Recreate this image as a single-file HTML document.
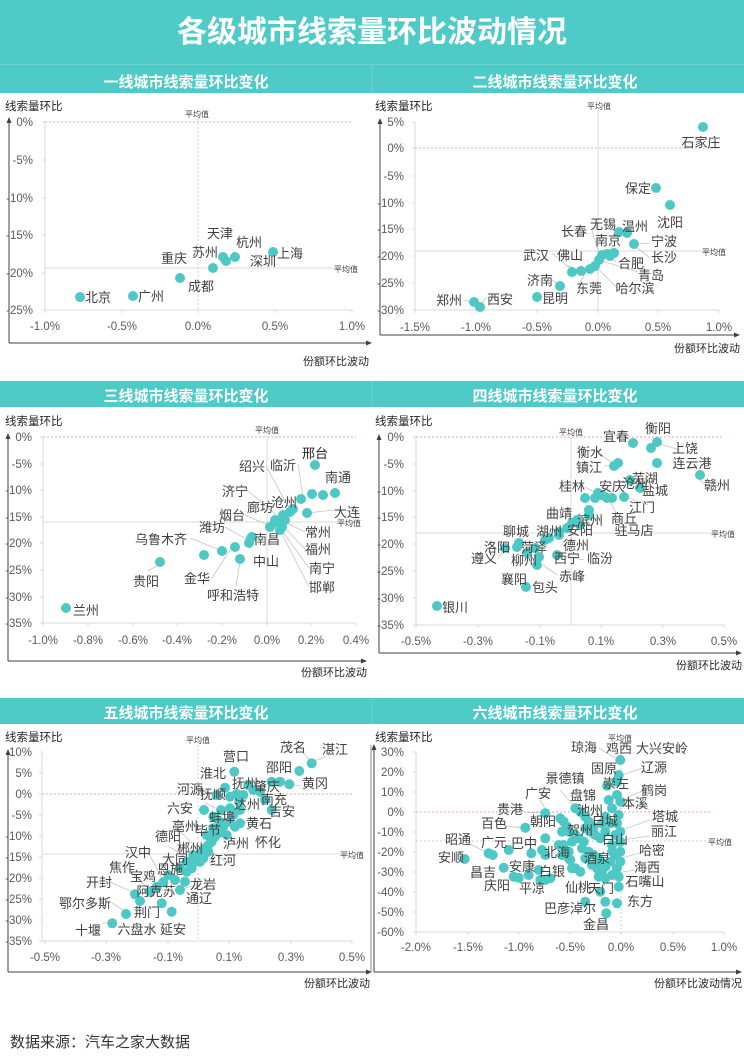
<!DOCTYPE html>
<html><head><meta charset="utf-8"><style>
html,body{margin:0;padding:0;background:#fff}
svg{display:block}
text{font-family:"Liberation Sans","Noto Sans CJK SC",sans-serif}
.ty{font-size:11.5px;fill:#595959;text-anchor:end}
.tx{font-size:11.5px;fill:#595959;text-anchor:middle}
.c{font-size:13px;fill:#404040;text-anchor:middle;font-family:"Liberation Sans","Noto Sans CJK SC",sans-serif}
.av{font-size:8px;fill:#404040;text-anchor:middle}
.at{font-size:11px;fill:#262626}
.h{font-size:15px;font-weight:bold;fill:#fff;text-anchor:middle}
.g{stroke:#d9d9d9;stroke-width:1;fill:none}
.rd{stroke:#f2a0a0;stroke-width:1;stroke-dasharray:2 2}
.gd{stroke:#cfcfcf;stroke-width:1;stroke-dasharray:2 2}
.ll{stroke:#c4c4c4;stroke-width:0.8;fill:none}
.ax{stroke:#404040;stroke-width:1}
circle{fill:#4DC8C5}
</style></head><body>
<svg width="744" height="1060" viewBox="0 0 744 1060" xmlns="http://www.w3.org/2000/svg">
<rect width="744" height="1060" fill="#fff"/>
<!-- headers -->
<rect x="0" y="0" width="744" height="93" fill="#4ECAC7"/>
<line x1="0" y1="64.5" x2="744" y2="64.5" stroke="#6ed3d0"/>
<line x1="372" y1="65" x2="372" y2="93" stroke="#6ed3d0"/>
<text x="372" y="42" style="font-size:30px;font-weight:bold;fill:#fff;text-anchor:middle">各级城市线索量环比波动情况</text>
<text class="h" x="186" y="87">一线城市线索量环比变化</text>
<text class="h" x="555" y="87">二线城市线索量环比变化</text>
<rect x="0" y="381" width="744" height="26" fill="#4ECAC7"/>
<line x1="372" y1="381" x2="372" y2="407" stroke="#6ed3d0"/>
<text class="h" x="186" y="401">三线城市线索量环比变化</text>
<text class="h" x="555" y="401">四线城市线索量环比变化</text>
<rect x="0" y="698" width="744" height="26" fill="#4ECAC7"/>
<line x1="372" y1="698" x2="372" y2="724" stroke="#6ed3d0"/>
<text class="h" x="186" y="718">五线城市线索量环比变化</text>
<text class="h" x="555" y="718">六线城市线索量环比变化</text>

<!-- ===== Panel 1 ===== -->
<g>
<text class="at" x="5" y="110" style="font-size:11.5px">线索量环比</text>
<line class="rd" x1="45" y1="122" x2="352" y2="122"/>
<line class="gd" x1="198" y1="119" x2="198" y2="310"/>
<line class="g" x1="45" y1="268" x2="352" y2="268"/>
<path class="g" d="M45 122V310H352M42 122H45M42 160H45M42 198H45M42 235H45M42 273H45M42 310H45M45 310V313M122 310V313M198 310V313M275 310V313M352 310V313"/>
<text class="av" x="197" y="117">平均值</text>
<text class="av" x="346" y="272">平均值</text>
<text class="ty" x="33" y="126">0%</text><text class="ty" x="33" y="164">-5%</text><text class="ty" x="33" y="202">-10%</text><text class="ty" x="33" y="239">-15%</text><text class="ty" x="33" y="277">-20%</text><text class="ty" x="33" y="314">-25%</text>
<text class="tx" x="45" y="330">-1.0%</text><text class="tx" x="122" y="330">-0.5%</text><text class="tx" x="198" y="330">0.0%</text><text class="tx" x="275" y="330">0.5%</text><text class="tx" x="352" y="330">1.0%</text>
<line class="ax" x1="9" y1="343" x2="9" y2="121"/><polygon points="6.5,123 9,117 11.5,123" fill="#404040"/>
<line class="ax" x1="9" y1="343" x2="369" y2="343"/><polygon points="366,340.5 372,343 366,345.5" fill="#404040"/>
<text class="at" x="369" y="365" style="text-anchor:end">份额环比波动</text>
<circle cx="80" cy="297" r="5"/><circle cx="133" cy="296" r="5"/><circle cx="180" cy="278" r="5"/><circle cx="213" cy="268" r="5"/><circle cx="223" cy="257" r="5"/><circle cx="226" cy="261" r="5"/><circle cx="235" cy="257" r="5"/><circle cx="273" cy="252" r="5"/>
<text class="c" x="220" y="238">天津</text><text class="c" x="249" y="247">杭州</text><text class="c" x="205" y="257">苏州</text><text class="c" x="174" y="263">重庆</text><text class="c" x="263" y="266">深圳</text><text class="c" x="290" y="258">上海</text><text class="c" x="201" y="291">成都</text><text class="c" x="98" y="302">北京</text><text class="c" x="151" y="301">广州</text>
</g>

<!-- ===== Panel 2 ===== -->
<g>
<text class="at" x="375" y="110" style="font-size:11.5px">线索量环比</text>
<line class="rd" x1="415" y1="148" x2="719" y2="148"/>
<line class="g" x1="598" y1="112" x2="598" y2="310"/>
<line class="g" x1="415" y1="251" x2="719" y2="251"/>
<path class="g" d="M415 122V310H719M412 122H415M412 148H415M412 176H415M412 203H415M412 229H415M412 256H415M412 283H415M412 310H415M415 310V313M476 310V313M537 310V313M598 310V313M658 310V313M719 310V313"/>
<text class="av" x="599" y="109">平均值</text>
<text class="av" x="714" y="255">平均值</text>
<text class="ty" x="404" y="126">5%</text><text class="ty" x="404" y="152">0%</text><text class="ty" x="404" y="180">-5%</text><text class="ty" x="404" y="207">-10%</text><text class="ty" x="404" y="233">-15%</text><text class="ty" x="404" y="260">-20%</text><text class="ty" x="404" y="287">-25%</text><text class="ty" x="404" y="314">-30%</text>
<text class="tx" x="415" y="331">-1.5%</text><text class="tx" x="476" y="331">-1.0%</text><text class="tx" x="537" y="331">-0.5%</text><text class="tx" x="598" y="331">0.0%</text><text class="tx" x="658" y="331">0.5%</text><text class="tx" x="719" y="331">1.0%</text>
<line class="ax" x1="380" y1="335" x2="380" y2="122"/><polygon points="377.5,124 380,118 382.5,124" fill="#404040"/>
<line class="ax" x1="380" y1="335" x2="737" y2="335"/><polygon points="734,332.5 740,335 734,337.5" fill="#404040"/>
<text class="at" x="740" y="352" style="text-anchor:end">份额环比波动</text>
<path class="ll" d="M592 230L600 257M612 247L605 254M650 243L636 244M650 258L636 247M616 262L606 256M638 272L602 261M617 288L596 267M579 284L586 272M552 253L572 270M566 265L578 270M552 280L558 284M464 300L472 302M487 297L480 305"/>
<circle cx="703" cy="127" r="5"/><circle cx="656" cy="188" r="5"/><circle cx="670" cy="205" r="5"/><circle cx="627" cy="233" r="5"/><circle cx="619" cy="232" r="5"/><circle cx="634" cy="244" r="5"/><circle cx="560" cy="286" r="5"/><circle cx="537" cy="297" r="5"/><circle cx="474" cy="302" r="5"/><circle cx="480" cy="307" r="5"/><circle cx="572" cy="272" r="5"/><circle cx="581" cy="271" r="5"/><circle cx="590" cy="269" r="5"/><circle cx="599" cy="260" r="5"/><circle cx="602" cy="255" r="5"/><circle cx="607" cy="254" r="5"/><circle cx="614" cy="253" r="5"/><circle cx="610" cy="256" r="5"/><circle cx="595" cy="266" r="5"/>
<text class="c" x="701" y="147">石家庄</text><text class="c" x="638" y="193">保定</text><text class="c" x="670" y="227">沈阳</text><text class="c" x="635" y="231">温州</text><text class="c" x="603" y="229">无锡</text><text class="c" x="574" y="236">长春</text><text class="c" x="608" y="245">南京</text><text class="c" x="664" y="246">宁波</text><text class="c" x="664" y="262">长沙</text><text class="c" x="631" y="268">合肥</text><text class="c" x="651" y="280">青岛</text><text class="c" x="635" y="293">哈尔滨</text><text class="c" x="589" y="293">东莞</text><text class="c" x="536" y="260">武汉</text><text class="c" x="570" y="260">佛山</text><text class="c" x="540" y="285">济南</text><text class="c" x="555" y="303">昆明</text><text class="c" x="449" y="305">郑州</text><text class="c" x="500" y="304">西安</text>
</g>

<!-- ===== Panel 3 ===== -->
<g>
<text class="at" x="5" y="425" style="font-size:11.5px">线索量环比</text>
<line class="rd" x1="43" y1="437" x2="356" y2="437"/>
<line class="g" x1="267" y1="436" x2="267" y2="623"/>
<line class="g" x1="43" y1="522" x2="356" y2="522"/>
<path class="g" d="M43 437V623H356M40 437H43M40 464H43M40 490H43M40 517H43M40 543H43M40 570H43M40 597H43M40 623H43M43 623V626M88 623V626M133 623V626M177 623V626M222 623V626M267 623V626M311 623V626M356 623V626"/>
<text class="av" x="267" y="433">平均值</text>
<text class="av" x="349" y="526">平均值</text>
<text class="ty" x="32" y="441">0%</text><text class="ty" x="32" y="468">-5%</text><text class="ty" x="32" y="494">-10%</text><text class="ty" x="32" y="521">-15%</text><text class="ty" x="32" y="547">-20%</text><text class="ty" x="32" y="574">-25%</text><text class="ty" x="32" y="601">-30%</text><text class="ty" x="32" y="627">-35%</text>
<text class="tx" x="43" y="644">-1.0%</text><text class="tx" x="88" y="644">-0.8%</text><text class="tx" x="133" y="644">-0.6%</text><text class="tx" x="177" y="644">-0.4%</text><text class="tx" x="222" y="644">-0.2%</text><text class="tx" x="267" y="644">0.0%</text><text class="tx" x="311" y="644">0.2%</text><text class="tx" x="356" y="644">0.4%</text>
<line class="ax" x1="8" y1="661" x2="8" y2="437"/><polygon points="5.5,439 8,433 10.5,439" fill="#404040"/>
<line class="ax" x1="8" y1="661" x2="364" y2="661"/><polygon points="361,658.5 367,661 361,663.5" fill="#404040"/>
<text class="at" x="367" y="676" style="text-anchor:end">份额环比波动</text>
<path class="ll" d="M190 538L220 550M225 527L248 540M245 515L268 525M247 490L280 518M266 466L290 510M298 464L303 498M334 510L307 513M305 532L285 522M305 549L283 526M309 568L280 528M309 587L278 526M212 578L230 550M236 586L240 562M148 571L158 565"/>
<circle cx="66" cy="608" r="5"/><circle cx="160" cy="562" r="5"/><circle cx="204" cy="555" r="5"/><circle cx="222" cy="551" r="5"/><circle cx="235" cy="547" r="5"/><circle cx="240" cy="559" r="5"/><circle cx="249" cy="543" r="5"/><circle cx="251" cy="538" r="5"/><circle cx="252" cy="537" r="5"/><circle cx="270" cy="527" r="5"/><circle cx="278" cy="523" r="5"/><circle cx="282" cy="527" r="5"/><circle cx="283" cy="515" r="5"/><circle cx="290" cy="512" r="5"/><circle cx="293" cy="509" r="5"/><circle cx="301" cy="499" r="5"/><circle cx="307" cy="513" r="5"/><circle cx="312" cy="494" r="5"/><circle cx="323" cy="495" r="5"/><circle cx="335" cy="493" r="5"/><circle cx="315" cy="465" r="5"/><circle cx="275" cy="520" r="5"/><circle cx="285" cy="520" r="5"/><circle cx="280" cy="530" r="5"/>
<text class="c" x="315" y="458" style="fill:#222">邢台</text><text class="c" x="338" y="482">南通</text><text class="c" x="283" y="470">临沂</text><text class="c" x="252" y="471">绍兴</text><text class="c" x="235" y="496">济宁</text><text class="c" x="284" y="507">沧州</text><text class="c" x="260" y="512">廊坊</text><text class="c" x="347" y="517">大连</text><text class="c" x="232" y="520">烟台</text><text class="c" x="212" y="532">潍坊</text><text class="c" x="318" y="537">常州</text><text class="c" x="267" y="544">南昌</text><text class="c" x="318" y="554">福州</text><text class="c" x="266" y="566">中山</text><text class="c" x="322" y="573">南宁</text><text class="c" x="197" y="583">金华</text><text class="c" x="322" y="592">邯郸</text><text class="c" x="233" y="600">呼和浩特</text><text class="c" x="161" y="544">乌鲁木齐</text><text class="c" x="146" y="586">贵阳</text><text class="c" x="86" y="615">兰州</text>
</g>

<!-- ===== Panel 4 ===== -->
<g>
<text class="at" x="375" y="425" style="font-size:11.5px">线索量环比</text>
<line class="rd" x1="416" y1="437" x2="724" y2="437"/>
<line class="g" x1="571" y1="437" x2="571" y2="625"/>
<line class="g" x1="416" y1="533" x2="724" y2="533"/>
<path class="g" d="M416 437V625H724M413 437H416M413 464H416M413 491H416M413 517H416M413 544H416M413 571H416M413 598H416M413 625H416M416 625V628M478 625V628M540 625V628M601 625V628M663 625V628M724 625V628"/>
<text class="av" x="571" y="435">平均值</text>
<text class="av" x="723" y="537">平均值</text>
<text class="ty" x="404" y="441">0%</text><text class="ty" x="404" y="468">-5%</text><text class="ty" x="404" y="495">-10%</text><text class="ty" x="404" y="521">-15%</text><text class="ty" x="404" y="548">-20%</text><text class="ty" x="404" y="575">-25%</text><text class="ty" x="404" y="602">-30%</text><text class="ty" x="404" y="629">-35%</text>
<text class="tx" x="416" y="645">-0.5%</text><text class="tx" x="478" y="645">-0.3%</text><text class="tx" x="540" y="645">-0.1%</text><text class="tx" x="601" y="645">0.1%</text><text class="tx" x="663" y="645">0.3%</text><text class="tx" x="724" y="645">0.5%</text>
<line class="ax" x1="379" y1="653" x2="379" y2="438"/><polygon points="376.5,440 379,434 381.5,440" fill="#404040"/>
<line class="ax" x1="379" y1="653" x2="739" y2="653"/><polygon points="736,650.5 742,653 736,655.5" fill="#404040"/>
<text class="at" x="742" y="669" style="text-anchor:end">份额环比波动</text>
<path class="ll" d="M597 452L614 464M604 466L614 466M585 487L600 495M700 480L705 485M648 505L626 497M680 450L660 444M628 535L608 498M557 575L543 565M520 553L540 556M498 558L505 550M584 560L558 555"/>
<circle cx="437" cy="606" r="5"/><circle cx="526" cy="587" r="5"/><circle cx="537" cy="565" r="5"/><circle cx="539" cy="557" r="5"/><circle cx="557" cy="555" r="5"/><circle cx="505" cy="548" r="5"/><circle cx="517" cy="547" r="5"/><circle cx="519" cy="543" r="5"/><circle cx="633" cy="443" r="5"/><circle cx="657" cy="442" r="5"/><circle cx="651" cy="448" r="5"/><circle cx="657" cy="463" r="5"/><circle cx="700" cy="475" r="5"/><circle cx="618" cy="463" r="5"/><circle cx="614" cy="466" r="5"/><circle cx="640" cy="488" r="5"/><circle cx="630" cy="480" r="5"/><circle cx="624" cy="497" r="5"/><circle cx="585" cy="498" r="5"/><circle cx="595" cy="498" r="5"/><circle cx="602" cy="495" r="5"/><circle cx="607" cy="498" r="5"/><circle cx="589" cy="510" r="5"/><circle cx="589" cy="515" r="5"/><circle cx="577" cy="520" r="5"/><circle cx="572" cy="523" r="5"/><circle cx="567" cy="528" r="5"/><circle cx="559" cy="535" r="5"/><circle cx="549" cy="538" r="5"/><circle cx="559" cy="532" r="5"/><circle cx="598" cy="493" r="5"/><circle cx="612" cy="498" r="5"/><circle cx="545" cy="540" r="5"/><circle cx="535" cy="548" r="5"/><circle cx="527" cy="553" r="5"/><circle cx="580" cy="525" r="5"/>
<text class="c" x="455" y="612">银川</text><text class="c" x="545" y="592">包头</text><text class="c" x="514" y="584">襄阳</text><text class="c" x="572" y="581">赤峰</text><text class="c" x="484" y="563">遵义</text><text class="c" x="497" y="552">洛阳</text><text class="c" x="534" y="552">菏泽</text><text class="c" x="524" y="565">柳州</text><text class="c" x="567" y="563">西宁</text><text class="c" x="600" y="563">临汾</text><text class="c" x="576" y="550">德州</text><text class="c" x="516" y="536">聊城</text><text class="c" x="549" y="536">湖州</text><text class="c" x="580" y="535">安阳</text><text class="c" x="634" y="535">驻马店</text><text class="c" x="590" y="525">滨州</text><text class="c" x="624" y="523">商丘</text><text class="c" x="559" y="518">曲靖</text><text class="c" x="642" y="512">江门</text><text class="c" x="572" y="491">桂林</text><text class="c" x="612" y="491">安庆</text><text class="c" x="635" y="488">沧州</text><text class="c" x="645" y="483">芜湖</text><text class="c" x="655" y="495">盐城</text><text class="c" x="589" y="472">镇江</text><text class="c" x="590" y="457">衡水</text><text class="c" x="616" y="441">宜春</text><text class="c" x="658" y="433">衡阳</text><text class="c" x="685" y="453">上饶</text><text class="c" x="692" y="468">连云港</text><text class="c" x="717" y="490">赣州</text>
</g>

<!-- ===== Panel 5 ===== -->
<g>
<text class="at" x="5" y="741" style="font-size:11.5px">线索量环比</text>
<line class="rd" x1="42" y1="794" x2="352" y2="794"/>
<line class="gd" x1="198" y1="745" x2="198" y2="941"/>
<line class="g" x1="42" y1="854" x2="352" y2="854"/>
<path class="g" d="M42 752V941H352M39 752H42M39 773H42M39 794H42M39 815H42M39 836H42M39 857H42M39 878H42M39 899H42M39 920H42M39 941H42M45 941V944M106 941V944M168 941V944M229 941V944M291 941V944M352 941V944"/>
<text class="av" x="198" y="743">平均值</text>
<text class="av" x="352" y="858">平均值</text>
<text class="ty" x="32" y="756">10%</text><text class="ty" x="32" y="777">5%</text><text class="ty" x="32" y="798">0%</text><text class="ty" x="32" y="819">-5%</text><text class="ty" x="32" y="840">-10%</text><text class="ty" x="32" y="861">-15%</text><text class="ty" x="32" y="882">-20%</text><text class="ty" x="32" y="903">-25%</text><text class="ty" x="32" y="924">-30%</text><text class="ty" x="32" y="945">-35%</text>
<text class="tx" x="45" y="961">-0.5%</text><text class="tx" x="106" y="961">-0.3%</text><text class="tx" x="168" y="961">-0.1%</text><text class="tx" x="229" y="961">0.1%</text><text class="tx" x="291" y="961">0.3%</text><text class="tx" x="352" y="961">0.5%</text>
<line class="ax" x1="8" y1="972" x2="8" y2="753"/><polygon points="5.5,755 8,749 10.5,755" fill="#404040"/>
<line class="ax" x1="8" y1="972" x2="369" y2="972"/><polygon points="366,969.5 372,972 366,974.5" fill="#404040"/>
<line class="ax" x1="371" y1="745" x2="371" y2="972" style="stroke:#888"/>
<text class="at" x="370" y="987" style="text-anchor:end">份额环比波动</text>
<path class="ll" d="M102 923L112 923M112 903L126 912M110 882L135 893M126 867L150 890M148 852L163 880M180 831L200 852M168 846L190 860M205 803L215 808M198 789L220 796M303 752L311 762M326 756L312 762M300 786L290 784M240 848L226 835M262 823L243 822M225 861L206 848M200 884L178 890"/>
<circle cx="112.3" cy="923.3" r="5"/><circle cx="126" cy="914" r="5"/><circle cx="140" cy="901" r="5"/><circle cx="135" cy="894.3" r="5"/><circle cx="161.7" cy="903.3" r="5"/><circle cx="171.7" cy="911.7" r="5"/><circle cx="180" cy="890" r="5"/><circle cx="163.3" cy="882.3" r="5"/><circle cx="150" cy="891.7" r="5"/><circle cx="156.7" cy="886.7" r="5"/><circle cx="175" cy="880" r="5"/><circle cx="168.3" cy="875" r="5"/><circle cx="186.7" cy="871.7" r="5"/><circle cx="191.7" cy="868.3" r="5"/><circle cx="192.7" cy="863.3" r="5"/><circle cx="196.7" cy="858.3" r="5"/><circle cx="200" cy="853.3" r="5"/><circle cx="205" cy="848.3" r="5"/><circle cx="208.3" cy="845" r="5"/><circle cx="211.7" cy="841.7" r="5"/><circle cx="215" cy="836.7" r="5"/><circle cx="218.3" cy="833.3" r="5"/><circle cx="221.7" cy="830" r="5"/><circle cx="223.3" cy="826.7" r="5"/><circle cx="230" cy="821.7" r="5"/><circle cx="240" cy="823.3" r="5"/><circle cx="233.3" cy="815" r="5"/><circle cx="213.3" cy="816.7" r="5"/><circle cx="221" cy="810" r="5"/><circle cx="204" cy="810" r="5"/><circle cx="240" cy="810" r="5"/><circle cx="239.3" cy="801.7" r="5"/><circle cx="243.3" cy="795" r="5"/><circle cx="236.7" cy="794" r="5"/><circle cx="225" cy="787.7" r="5"/><circle cx="253.3" cy="790" r="5"/><circle cx="265" cy="800" r="5"/><circle cx="271.7" cy="810" r="5"/><circle cx="271.7" cy="781.7" r="5"/><circle cx="280" cy="781.7" r="5"/><circle cx="289.3" cy="784.3" r="5"/><circle cx="299.3" cy="771" r="5"/><circle cx="311.7" cy="763.3" r="5"/><circle cx="234.3" cy="771.7" r="5"/><circle cx="216.7" cy="795" r="5"/><circle cx="230" cy="796.7" r="5"/><circle cx="248.3" cy="785" r="5"/><circle cx="260" cy="791.7" r="5"/><circle cx="220" cy="821.7" r="5"/><circle cx="226.7" cy="835" r="5"/><circle cx="200" cy="861.7" r="5"/><circle cx="185" cy="881.7" r="5"/><circle cx="193.3" cy="855" r="5"/><circle cx="206.7" cy="835" r="5"/><circle cx="213.3" cy="828.3" r="5"/><circle cx="235" cy="826.7" r="5"/><circle cx="230" cy="808.3" r="5"/><circle cx="208.3" cy="851.7" r="5"/><circle cx="203.3" cy="858.3" r="5"/><circle cx="186.7" cy="861.7" r="5"/><circle cx="180" cy="868.3" r="5"/>
<text class="c" x="335" y="754">湛江</text><text class="c" x="293" y="752">茂名</text><text class="c" x="279" y="772">邵阳</text><text class="c" x="315" y="788">黄冈</text><text class="c" x="236" y="761">营口</text><text class="c" x="213" y="778">淮北</text><text class="c" x="190" y="794">河源</text><text class="c" x="245" y="788">抚州</text><text class="c" x="267" y="791">肇庆</text><text class="c" x="213" y="799">抚顺</text><text class="c" x="274" y="804">南充</text><text class="c" x="247" y="809">达州</text><text class="c" x="180" y="813">六安</text><text class="c" x="282" y="816">吉安</text><text class="c" x="222" y="822">蚌埠</text><text class="c" x="259" y="828">黄石</text><text class="c" x="185" y="831">亳州</text><text class="c" x="208" y="835">毕节</text><text class="c" x="168" y="841">德阳</text><text class="c" x="236" y="848">泸州</text><text class="c" x="268" y="847">怀化</text><text class="c" x="190" y="853">郴州</text><text class="c" x="138" y="857">汉中</text><text class="c" x="175" y="864">大同</text><text class="c" x="223" y="865">红河</text><text class="c" x="122" y="872">焦作</text><text class="c" x="143" y="881">宝鸡</text><text class="c" x="170" y="874">恩施</text><text class="c" x="99" y="887">开封</text><text class="c" x="203" y="889">龙岩</text><text class="c" x="156" y="896">阿克苏</text><text class="c" x="199" y="903">通辽</text><text class="c" x="85" y="908">鄂尔多斯</text><text class="c" x="147" y="917">荆门</text><text class="c" x="88" y="935">十堰</text><text class="c" x="137" y="934">六盘水</text><text class="c" x="173" y="934">延安</text>
</g>

<!-- ===== Panel 6 ===== -->
<g>
<text class="at" x="375" y="741" style="font-size:11.5px">线索量环比</text>
<line class="rd" x1="416" y1="812" x2="712" y2="812"/>
<line class="gd" x1="621" y1="740" x2="621" y2="932"/>
<line class="gd" x1="416" y1="841" x2="712" y2="841"/>
<path class="g" d="M416 752V932H724M413 752H416M413 772H416M413 792H416M413 812H416M413 832H416M413 852H416M413 872H416M413 892H416M413 912H416M413 932H416M416 932V935M468 932V935M519 932V935M570 932V935M621 932V935M673 932V935M724 932V935"/>
<text class="av" x="620" y="741">平均值</text>
<text class="av" x="720" y="845">平均值</text>
<text class="ty" x="404" y="756">30%</text><text class="ty" x="404" y="776">20%</text><text class="ty" x="404" y="796">10%</text><text class="ty" x="404" y="816">0%</text><text class="ty" x="404" y="836">-10%</text><text class="ty" x="404" y="856">-20%</text><text class="ty" x="404" y="876">-30%</text><text class="ty" x="404" y="896">-40%</text><text class="ty" x="404" y="916">-50%</text><text class="ty" x="404" y="936">-60%</text>
<text class="tx" x="416" y="951">-2.0%</text><text class="tx" x="468" y="951">-1.5%</text><text class="tx" x="519" y="951">-1.0%</text><text class="tx" x="570" y="951">-0.5%</text><text class="tx" x="621" y="951">0.0%</text><text class="tx" x="673" y="951">0.5%</text><text class="tx" x="724" y="951">1.0%</text>
<line class="ax" x1="374" y1="972" x2="374" y2="748"/><polygon points="371.5,750 374,744 376.5,750" fill="#404040"/>
<line class="ax" x1="374" y1="972" x2="739" y2="972"/><polygon points="736,969.5 742,972 736,974.5" fill="#404040"/>
<text class="at" x="742" y="987" style="text-anchor:end">份额环比波动情况</text>
<path class="ll" d="M599 748L615 758M643 768L622 775M644 790L622 800M625 803L620 810M650 820L622 830M650 836L622 840M640 853L622 858M635 870L622 872M470 844L486 852M468 857L463 858M520 812L545 813M505 826L524 828M560 790L574 806M540 800L546 810"/>
<circle cx="464.7" cy="859" r="5"/><circle cx="488.7" cy="853.3" r="5"/><circle cx="492.7" cy="855" r="5"/><circle cx="503.7" cy="867.7" r="5"/><circle cx="508.7" cy="850" r="5"/><circle cx="518.7" cy="877.7" r="5"/><circle cx="513.7" cy="876.7" r="5"/><circle cx="525.3" cy="827.7" r="5"/><circle cx="531.3" cy="853.3" r="5"/><circle cx="528.7" cy="875" r="5"/><circle cx="538.7" cy="870" r="5"/><circle cx="540.3" cy="880" r="5"/><circle cx="545.3" cy="880" r="5"/><circle cx="550.3" cy="878.3" r="5"/><circle cx="545.3" cy="813.3" r="5"/><circle cx="545.3" cy="838.3" r="5"/><circle cx="542" cy="850" r="5"/><circle cx="545.3" cy="855" r="5"/><circle cx="560.3" cy="818.3" r="5"/><circle cx="563.7" cy="821.7" r="5"/><circle cx="567" cy="826.7" r="5"/><circle cx="562" cy="831.7" r="5"/><circle cx="568.7" cy="831.7" r="5"/><circle cx="558.7" cy="845" r="5"/><circle cx="563.7" cy="845" r="5"/><circle cx="568.7" cy="851.7" r="5"/><circle cx="562" cy="855" r="5"/><circle cx="568.7" cy="858.3" r="5"/><circle cx="572" cy="868.3" r="5"/><circle cx="570.3" cy="860" r="5"/><circle cx="575.3" cy="868.3" r="5"/><circle cx="580.3" cy="871.7" r="5"/><circle cx="572" cy="841.7" r="5"/><circle cx="575.3" cy="835" r="5"/><circle cx="578.7" cy="838.3" r="5"/><circle cx="583.7" cy="841.7" r="5"/><circle cx="575.3" cy="808.3" r="5"/><circle cx="580.3" cy="811.7" r="5"/><circle cx="585.3" cy="816.7" r="5"/><circle cx="588.7" cy="821.7" r="5"/><circle cx="593.7" cy="826.7" r="5"/><circle cx="585.3" cy="828.3" r="5"/><circle cx="590.3" cy="831.7" r="5"/><circle cx="595.3" cy="835" r="5"/><circle cx="600.3" cy="838.3" r="5"/><circle cx="605.3" cy="831.7" r="5"/><circle cx="582" cy="848.3" r="5"/><circle cx="588.7" cy="851.7" r="5"/><circle cx="593.7" cy="855" r="5"/><circle cx="598.7" cy="858.3" r="5"/><circle cx="602" cy="863.3" r="5"/><circle cx="585.3" cy="858.3" r="5"/><circle cx="592" cy="865" r="5"/><circle cx="597" cy="868.3" r="5"/><circle cx="602" cy="871.7" r="5"/><circle cx="605.3" cy="866.7" r="5"/><circle cx="610.3" cy="861.7" r="5"/><circle cx="598.7" cy="876.7" r="5"/><circle cx="605.3" cy="878.3" r="5"/><circle cx="612" cy="875" r="5"/><circle cx="617" cy="868.3" r="5"/><circle cx="618.7" cy="876.7" r="5"/><circle cx="600.3" cy="891.7" r="5"/><circle cx="605.3" cy="901.7" r="5"/><circle cx="617" cy="903.3" r="5"/><circle cx="606.3" cy="913.3" r="5"/><circle cx="585.3" cy="901.7" r="5"/><circle cx="618.7" cy="886.7" r="5"/><circle cx="620.3" cy="760" r="5"/><circle cx="618.7" cy="775" r="5"/><circle cx="607" cy="785.7" r="5"/><circle cx="617" cy="781.7" r="5"/><circle cx="608.7" cy="800" r="5"/><circle cx="617" cy="795" r="5"/><circle cx="620.3" cy="801.7" r="5"/><circle cx="612" cy="808.3" r="5"/><circle cx="618.7" cy="815" r="5"/><circle cx="605.3" cy="816.7" r="5"/><circle cx="602" cy="823.3" r="5"/><circle cx="610.3" cy="823.3" r="5"/><circle cx="617" cy="823.3" r="5"/><circle cx="620.3" cy="831.7" r="5"/><circle cx="615.3" cy="835" r="5"/><circle cx="620.3" cy="841.7" r="5"/><circle cx="612" cy="845" r="5"/><circle cx="620.3" cy="851.7" r="5"/><circle cx="615.3" cy="855" r="5"/><circle cx="620.3" cy="861.7" r="5"/><circle cx="612" cy="851.7" r="5"/>
<text class="c" x="584" y="752">琼海</text><text class="c" x="619" y="753">鸡西</text><text class="c" x="662" y="753">大兴安岭</text><text class="c" x="654" y="772">辽源</text><text class="c" x="604" y="773">固原</text><text class="c" x="565" y="783">景德镇</text><text class="c" x="616" y="788">崇左</text><text class="c" x="654" y="795">鹤岗</text><text class="c" x="538" y="798">广安</text><text class="c" x="583" y="800">盘锦</text><text class="c" x="635" y="808">本溪</text><text class="c" x="510" y="814">贵港</text><text class="c" x="590" y="815">池州</text><text class="c" x="665" y="821">塔城</text><text class="c" x="543" y="826">朝阳</text><text class="c" x="605" y="825">白城</text><text class="c" x="494" y="828">百色</text><text class="c" x="580" y="835">贺州</text><text class="c" x="664" y="836">丽江</text><text class="c" x="458" y="844">昭通</text><text class="c" x="494" y="847">广元</text><text class="c" x="524" y="848">巴中</text><text class="c" x="615" y="844">白山</text><text class="c" x="652" y="855">哈密</text><text class="c" x="557" y="857">北海</text><text class="c" x="451" y="862">安顺</text><text class="c" x="597" y="863">酒泉</text><text class="c" x="647" y="872">海西</text><text class="c" x="522" y="871">安康</text><text class="c" x="483" y="877">昌吉</text><text class="c" x="552" y="876">白银</text><text class="c" x="645" y="886">石嘴山</text><text class="c" x="497" y="890">庆阳</text><text class="c" x="532" y="893">平凉</text><text class="c" x="578" y="892">仙桃</text><text class="c" x="601" y="893">天门</text><text class="c" x="640" y="906">东方</text><text class="c" x="570" y="913">巴彦淖尔</text><text class="c" x="596" y="929">金昌</text>
</g>

<text x="10" y="1047" style="font-size:15px;fill:#333">数据来源：汽车之家大数据</text>
</svg>
</body></html>
